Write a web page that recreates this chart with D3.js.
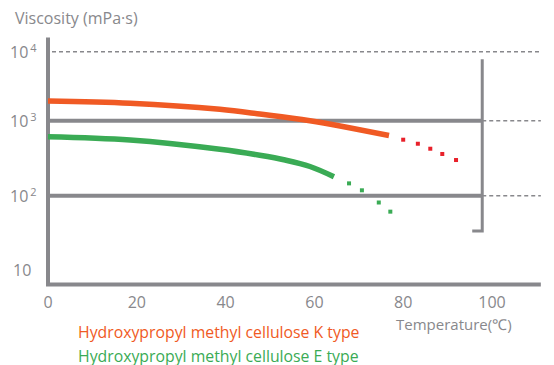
<!DOCTYPE html>
<html>
  <script src="https://cdn.jsdelivr.net/npm/d3@7"></script>
  <body style="margin:0;background:#fff">
    <script>
var width = 554;
var height = 365;

// K type (orange): solid part, then dotted extension
var kTemp = [0, 18.5, 38.7, 47.7, 59, 76.8];
var kVisc = [1930, 1790, 1460, 1250, 1000, 635];
var kDotTemp = [80.0, 83.3, 86.1, 88.8, 91.9];
var kDotVisc = [558, 493, 423, 360, 299];

// E type (green)
var eTemp = [0, 18.5, 38.7, 47.7, 53.4, 59, 64.4];
var eVisc = [612, 553, 416, 346, 299, 245, 179];
var eDotTemp = [67.8, 70.7, 74.5, 77.1];
var eDotVisc = [146, 118, 81, 61];

var xTicks = [0, 20, 40, 60, 80, 100];
var yTicks = [10, 100, 1000, 10000];
var yTickExp = ['', '2', '3', '4'];

var gray = '#88888c';
var orange = '#f05a24';
var red = '#e8202a';
var green = '#3aab55';
var font = '"Open Sans", sans-serif';

var svg = d3.select('body').append('svg')
  .attr('width', width)
  .attr('height', height)
  .style('display', 'block');

var x = d3.scaleLinear().domain([0, 100]).range([48, 492]);
// the picture's decades are not evenly spaced, so the log scale is piecewise
var y = d3.scaleLog()
  .domain([10, 100, 1000, 10000])
  .range([270, 195.7, 120.7, 51.7]);

var xMax = 111, yMin = 6.4, yMax = 16000;
var bracketT = 97.8, bracketTop = 7800, bracketBottom = 33.5;

// dashed gridlines
svg.append('line')
  .attr('x1', x(0) + 4).attr('x2', x(xMax))
  .attr('y1', y(10000)).attr('y2', y(10000))
  .style('stroke', gray).style('stroke-width', 1.6)
  .style('stroke-dasharray', '4,3');

[100, 1000].forEach(function(v) {
  svg.append('line')
    .attr('x1', x(bracketT)).attr('x2', x(xMax))
    .attr('y1', y(v)).attr('y2', y(v))
    .style('stroke', gray).style('stroke-width', 1.6)
    .style('stroke-dasharray', '4,3');
  svg.append('line')
    .attr('x1', x(0)).attr('x2', x(bracketT))
    .attr('y1', y(v)).attr('y2', y(v))
    .style('stroke', gray).style('stroke-width', 4);
});

// bracket on the right
svg.append('path')
  .attr('d', 'M' + x(bracketT) + ',' + y(bracketTop) +
    'V' + y(bracketBottom) + 'H' + (x(bracketT) - 10))
  .style('fill', 'none').style('stroke', gray).style('stroke-width', 3);

// axes
svg.append('path')
  .attr('d', 'M' + x(0) + ',' + y(yMax) + 'V' + y(yMin) + 'H' + x(xMax))
  .style('fill', 'none').style('stroke', gray).style('stroke-width', 4);

// curves
var line = d3.line()
  .x(function(d) { return x(d[0]); })
  .y(function(d) { return y(d[1]); })
  .curve(d3.curveCatmullRom);

svg.append('path')
  .datum(d3.zip(eTemp, eVisc))
  .attr('d', line)
  .style('fill', 'none').style('stroke', green).style('stroke-width', 5.5);

svg.append('path')
  .datum(d3.zip(kTemp, kVisc))
  .attr('d', line)
  .style('fill', 'none').style('stroke', orange).style('stroke-width', 5.5);

svg.selectAll('rect.kdot').data(d3.zip(kDotTemp, kDotVisc))
  .enter().append('rect')
  .attr('class', 'kdot')
  .attr('x', function(d) { return x(d[0]) - 2; })
  .attr('y', function(d) { return y(d[1]) - 2; })
  .attr('width', 4).attr('height', 4)
  .style('fill', red);

svg.selectAll('rect.edot').data(d3.zip(eDotTemp, eDotVisc))
  .enter().append('rect')
  .attr('class', 'edot')
  .attr('x', function(d) { return x(d[0]) - 2; })
  .attr('y', function(d) { return y(d[1]) - 2; })
  .attr('width', 4).attr('height', 4)
  .style('fill', green);

// tick labels
svg.selectAll('text.xt').data(xTicks)
  .enter().append('text')
  .attr('class', 'xt')
  .attr('x', function(d) { return x(d); })
  .attr('y', 308)
  .attr('text-anchor', 'middle')
  .style('font-family', font).style('font-size', '16px').style('fill', gray)
  .text(function(d) { return d; });

yTicks.forEach(function(v, i) {
  var t = svg.append('text')
    .attr('x', yTickExp[i] ? 10 : 13)
    .attr('y', y(v) + 6)
    .style('font-family', font).style('font-size', '16px').style('fill', gray)
    .text('10');
  if (yTickExp[i]) {
    t.append('tspan')
      .attr('dy', -6)
      .attr('dx', 2)
      .style('font-size', '11px')
      .text(yTickExp[i]);
  }
});

svg.append('text')
  .attr('x', 15).attr('y', 24)
  .style('font-family', font).style('font-size', '16px').style('fill', gray)
  .text('Viscosity (mPa·s)');

svg.append('text')
  .attr('x', 396).attr('y', 330)
  .style('font-family', font).style('font-size', '15px').style('fill', gray)
  .text('Temperature(℃)');

svg.append('text')
  .attr('x', 78).attr('y', 338)
  .style('font-family', font).style('font-size', '15.8px').style('fill', orange)
  .text('Hydroxypropyl methyl cellulose K type');

svg.append('text')
  .attr('x', 78).attr('y', 361.5)
  .style('font-family', font).style('font-size', '15.8px').style('fill', green)
  .text('Hydroxypropyl methyl cellulose E type');
    </script>
  </body>
</html>
